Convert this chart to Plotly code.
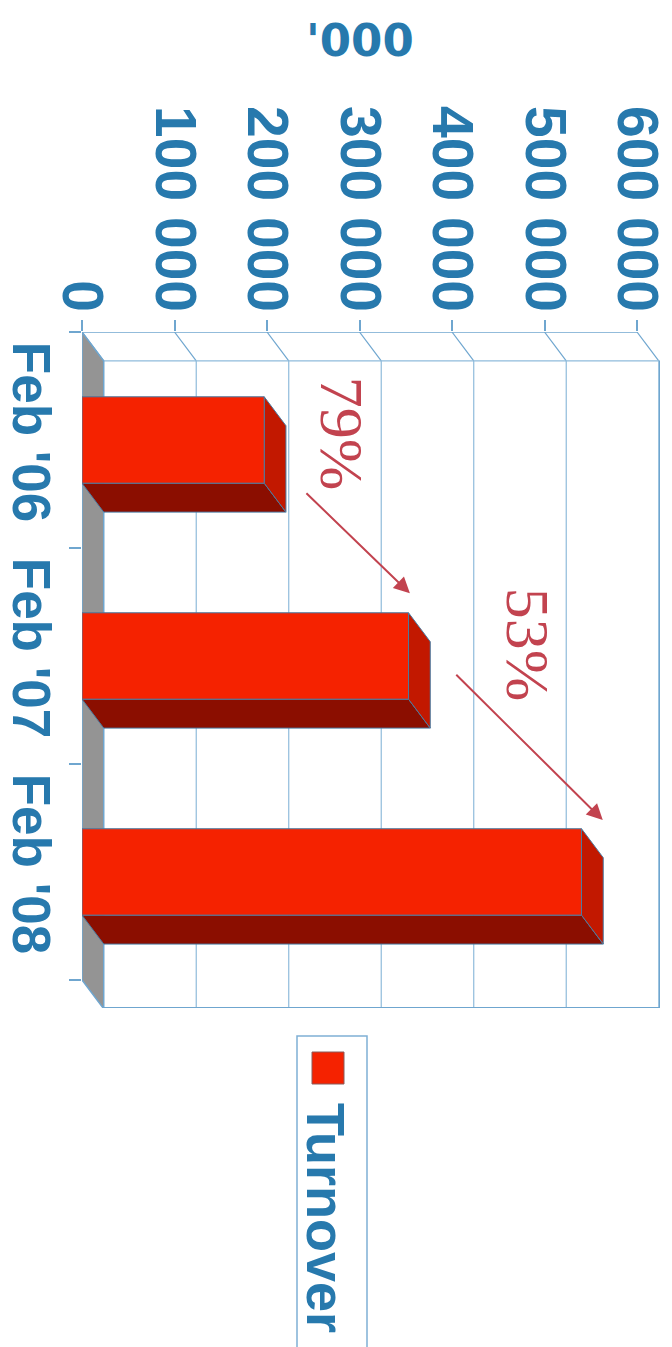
import plotly.graph_objects as go

# ---- data ----
categories = ["Feb '06", "Feb '07", "Feb '08"]
turnover = [197000, 353000, 540000]
growth_labels = ["79%", "53%"]
value_ticks = [0, 100000, 200000, 300000, 400000, 500000, 600000]
value_tick_text = ["0", "100 000", "200 000", "300 000", "400 000", "500 000", "600 000"]
series_name = "Turnover"
unit_title = "'000"

# ---- style ----
BLUE = "#2779ad"
LINE = "#6fa6cf"
GRID = "#8fbbdb"
EDGE = "#4a7aa0"
RED_FRONT = "#f52200"
RED_SIDE = "#c21800"
RED_BOTTOM = "#8b0e00"
WALL = "#949494"
ANN = "#c2434f"

W, H = 672, 1347
ML, MR, MT, MB = 82, 12, 332, 339
XMAX = 624865
DX = 23500          # depth in value units
DY = 0.134          # depth in category units
BW = 0.4
YMIN, YMAX = -0.5, 2.63

fig = go.Figure()

def poly(xs, ys, fill, line=LINE, lw=1, name=None):
    fig.add_trace(go.Scatter(x=xs + [xs[0]], y=ys + [ys[0]], mode="lines",
                             fill="toself", fillcolor=fill,
                             line=dict(color=line, width=lw), name=name,
                             hoverinfo="skip", showlegend=False))

def seg(xs, ys, color=GRID, lw=1.2):
    fig.add_trace(go.Scatter(x=xs, y=ys, mode="lines",
                             line=dict(color=color, width=lw),
                             hoverinfo="skip", showlegend=False))

n = len(categories)
top_back = -0.5 + DY
bot_front = n - 0.5
bot_back = bot_front + DY

# back wall grid lines
for v in value_ticks[1:]:
    seg([v + DX, v + DX], [top_back, bot_back])
# diagonal lines from front ticks to back wall
for v in value_ticks:
    seg([v, v + DX], [-0.5, top_back], color=LINE)
# back wall edges
seg([DX, XMAX], [top_back, top_back])
seg([DX, XMAX], [YMAX, YMAX], color=LINE, lw=2)
seg([XMAX, XMAX], [top_back, YMAX], color=LINE, lw=2)
# front top line
seg([0, value_ticks[-1]], [-0.5, -0.5], color=LINE, lw=1.5)

# gray left wall
poly([0, DX, DX, 0], [-0.5, top_back, bot_back, bot_front], WALL, line=LINE, lw=1.5)

# 3D bars
for i, v in enumerate(turnover):
    y0, y1 = i - BW / 2, i + BW / 2
    poly([0, v, v + DX, DX], [y1, y1, y1 + DY, y1 + DY], RED_BOTTOM, line=EDGE)
    poly([v, v + DX, v + DX, v], [y0, y0 + DY, y1 + DY, y1], RED_SIDE, line=EDGE)
    poly([0, v, v, 0], [y0, y0, y1, y1], RED_FRONT, line=EDGE, name=series_name)

# growth arrows and labels
arrows = [
    (turnover[0] + 44000, 0.24, turnover[1] + 1500, 0.71),
    (turnover[1] + 50000, 1.08, turnover[2] + 23000, 1.76),
]
label_pos = [
    ((turnover[0] + turnover[1]) / 2 + 7000, -0.03),
    ((turnover[1] + turnover[2]) / 2 + 35000, 0.95),
]
for (tx, ty, hx, hy), txt, (lx, ly) in zip(arrows, growth_labels, label_pos):
    fig.add_annotation(x=hx, y=hy, ax=tx, ay=ty, xref="x", yref="y",
                       axref="x", ayref="y", showarrow=True, arrowhead=2,
                       arrowsize=1.6, arrowwidth=2, arrowcolor=ANN, text="")
    fig.add_annotation(x=lx, y=ly, xref="x", yref="y", text=txt, showarrow=False,
                       textangle=90, xanchor="center", yanchor="middle",
                       font=dict(family="Times New Roman, Liberation Serif, serif",
                                 size=62, color=ANN))

def px_x(p):
    return (p - ML) / (W - ML - MR)

def px_y(p):
    return (H - MB - p) / (H - MT - MB)

# unit title
fig.add_annotation(x=px_x(360), y=px_y(40), xref="paper", yref="paper",
                   text=unit_title, showarrow=False, xanchor="center", yanchor="middle",
                   font=dict(family="DejaVu Sans", size=45, color=BLUE, weight="bold"))

# custom rotated legend
fig.add_shape(type="rect", xref="paper", yref="paper",
              x0=px_x(297), x1=px_x(367), y0=px_y(1036), y1=px_y(1360),
              line=dict(color="#7fb0d5", width=1.5), fillcolor="rgba(0,0,0,0)")
fig.add_shape(type="rect", xref="paper", yref="paper",
              x0=px_x(312), x1=px_x(344), y0=px_y(1052), y1=px_y(1084),
              line=dict(color="#8a5a5a", width=1), fillcolor=RED_FRONT)
fig.add_annotation(x=px_x(326), y=px_y(1218), xref="paper", yref="paper",
                   text=series_name, showarrow=False, textangle=90,
                   xanchor="center", yanchor="middle",
                   font=dict(family="Liberation Sans", size=54, color=BLUE, weight="bold"))

fig.update_layout(
    width=W, height=H,
    margin=dict(l=ML, r=MR, t=MT, b=MB, pad=0, autoexpand=False),
    paper_bgcolor="white", plot_bgcolor="white",
    showlegend=False,
    xaxis=dict(range=[0, XMAX], side="top", tickmode="array", automargin=False,
               tickvals=value_ticks, ticktext=value_tick_text, tickangle=90,
               ticks="outside", ticklen=11, tickcolor=LINE, tickwidth=1.5,
               ticklabelstandoff=-12,
               showgrid=False, zeroline=False, showline=False,
               tickfont=dict(family="Liberation Sans", size=57, color=BLUE, weight="bold")),
    yaxis=dict(range=[YMAX, YMIN], tickmode="array", tickvals=list(range(n)),
               ticktext=categories, tickangle=90, ticks="", automargin=False,
               ticklabelstandoff=15,
               showgrid=False, zeroline=False, showline=False,
               minor=dict(tickmode="array", tickvals=[-0.5, 0.5, 1.5, 2.5],
                          ticks="outside", ticklen=12, tickcolor=LINE, tickwidth=1.5,
                          showgrid=False),
               tickfont=dict(family="Liberation Sans", size=53, color=BLUE, weight="bold")),
)

fig.write_html("out.html")
